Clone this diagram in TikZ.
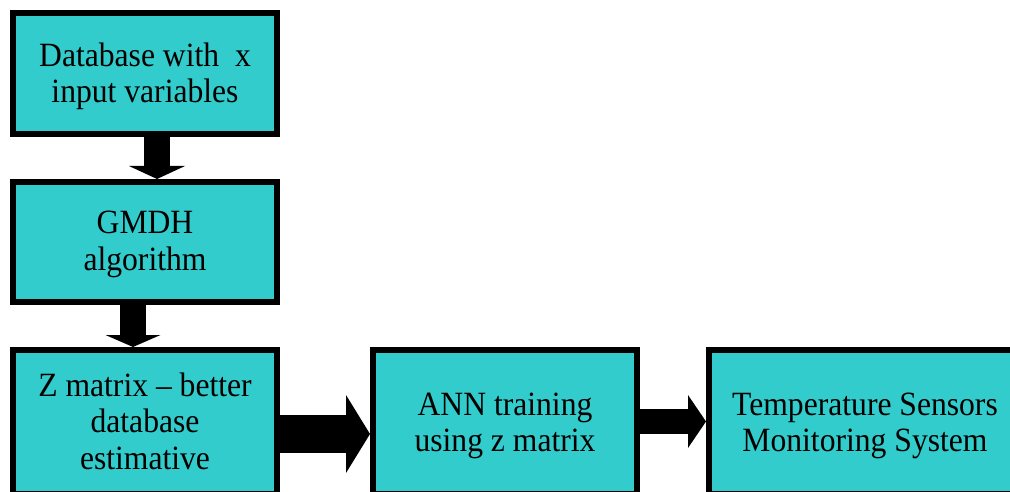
\documentclass[tikz,border=0pt]{standalone}
\usepackage{fontspec}
\setmainfont{Liberation Serif}[FakeStretch=0.93]
\usetikzlibrary{arrows.meta}
\definecolor{boxcyan}{HTML}{33CCCC}
\begin{document}
\begin{tikzpicture}[x=1pt,y=1pt,
    block/.style={draw=black,fill=boxcyan,line width=6pt,align=center,
      inner sep=0pt,font=\fontsize{34}{36.5}\selectfont}]
    \useasboundingbox (0,0) rectangle (1010,-492);
    \begin{scope}
        \clip (0,0) rectangle (1010,-492);
        % blocks
        \node[block,minimum width=264pt,minimum height=121pt,text height=64pt,text depth=5pt] (db) at (145,-73.5) {Database with\ \ x\\input variables};
        \node[block,minimum width=264pt,minimum height=120pt,text height=62pt,text depth=6pt] (gmdh) at (145,-242) {GMDH\\algorithm};
        \node[block,minimum width=264pt,minimum height=144pt,text height=97pt,text depth=3pt] (zmat) at (145,-422) {Z matrix -- better\\database\\estimative\ };
        \node[block,minimum width=264pt,minimum height=144pt,text height=65pt,text depth=5.6pt] (ann) at (505,-422) {ANN training\\using z matrix\ };
        \node[block,minimum width=312pt,minimum height=144pt,text height=65pt,text depth=5.6pt] (tsms) at (865,-422) {Temperature Sensors\\Monitoring System\ };

        % arrows
        \draw[line width=26pt,-{Triangle[width=56pt,length=13pt,line width=0pt]}] ([xshift=12pt]db.south) -- ([xshift=12pt]gmdh.north);
        \draw[line width=26pt,-{Triangle[width=55pt,length=12pt,line width=0pt]}] ([xshift=-12pt]gmdh.south) -- ([xshift=-12pt]zmat.north);
        \draw[line width=38pt,-{Triangle[width=78pt,length=24pt,line width=0pt]}] ([yshift=-12pt]zmat.east) -- ([yshift=-12pt]ann.west);
        \draw[line width=25pt,-{Triangle[width=53pt,length=18pt,line width=0pt]}] ([yshift=0.5pt]ann.east) -- ([yshift=0.5pt]tsms.west);
    \end{scope}
\end{tikzpicture}
\end{document}
